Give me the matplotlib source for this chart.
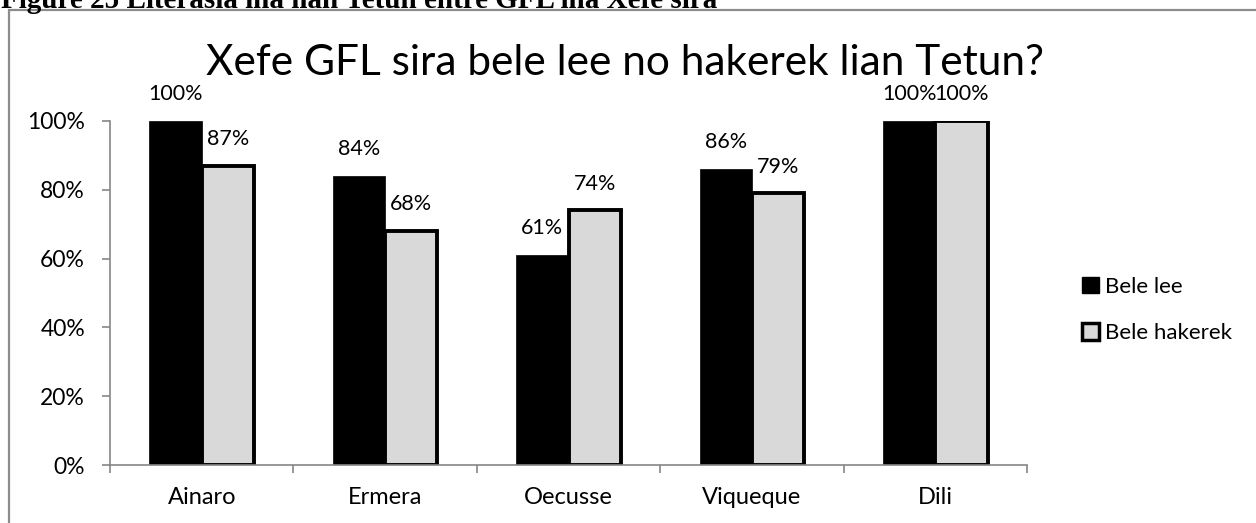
import matplotlib.pyplot as plt
import matplotlib.patches as mpatches
import numpy as np

plt.rcParams["font.family"] = ["Lato", "DejaVu Sans"]

districts = ["Ainaro", "Ermera", "Oecusse", "Viqueque", "Dili"]
bele_lee = [100, 84, 61, 86, 100]
bele_hakerek = [87, 68, 74, 79, 100]
series_names = ["Bele lee", "Bele hakerek"]
yticks = [0, 20, 40, 60, 80, 100]

W, H = 1256, 523
fig = plt.figure(figsize=(W / 100, H / 100), dpi=100)

# outer chart frame (right/bottom cut off in the original)
fig.patches.append(mpatches.Rectangle((9 / W, -0.1), 1.2, 1 - 10 / H + 0.1,
                                      transform=fig.transFigure, fill=False,
                                      edgecolor="#8c8c8c", linewidth=1.6))

# caption, clipped at the top edge as in the source document
fig.text(1 / W, 1 - 14 / H, "Figure 25 Literasia iha lian Tetun entre GFL iha Xefe sira",
         family="Liberation Serif", weight="bold", fontsize=21, va="bottom")

ax = fig.add_axes([110 / W, 58 / H, (1027 - 110) / W, (465 - 121) / H])

x = np.arange(len(districts))
w = 0.285
b1 = ax.bar(x - w / 2, bele_lee, w, color="black", edgecolor="black", linewidth=0.5)
b2 = ax.bar(x + w / 2, bele_hakerek, w, color="#d9d9d9", edgecolor="black", linewidth=2.8)

fs = 15.5
for bars, vals in [(b1, bele_lee), (b2, bele_hakerek)]:
    for r, v in zip(bars, vals):
        ax.annotate("{0}%".format(v), (r.get_x() + r.get_width() / 2, v),
                    xytext=(0, 12), textcoords="offset points",
                    ha="center", va="bottom", fontsize=fs)

ax.set_xlim(-0.5, len(districts) - 0.5)
ax.set_ylim(0, 100)
ax.set_yticks(yticks)
ax.set_yticklabels(["{0}%".format(t) for t in yticks], fontsize=16.5)
ax.set_xticks(x)
ax.set_xticklabels(districts, fontsize=17)
ax.set_xticks(np.arange(len(districts) + 1) - 0.5, minor=True)
ax.tick_params(axis="x", which="major", length=0, pad=16)
ax.tick_params(axis="x", which="minor", length=6, color="#868686", width=1.2)
ax.tick_params(axis="y", length=6, color="#868686", width=1.2, pad=12)
for s in ["top", "right"]:
    ax.spines[s].set_visible(False)
for s in ["left", "bottom"]:
    ax.spines[s].set_color("#868686")
    ax.spines[s].set_linewidth(1.2)

fig.text(625 / W, 1 - 75 / H, "Xefe GFL sira bele lee no hakerek lian Tetun?",
         ha="center", va="baseline", fontsize=30.5)

handles = [mpatches.Patch(facecolor="black", edgecolor="black"),
           mpatches.Patch(facecolor="#d9d9d9", edgecolor="black", linewidth=2.5)]
fig.legend(handles, series_names, loc="center left",
           bbox_to_anchor=(1062 / W, 1 - 310 / H), frameon=False, fontsize=16,
           handlelength=0.75, handleheight=0.75, handletextpad=0.3, labelspacing=1.2)

fig.savefig("out.png", dpi=100)
